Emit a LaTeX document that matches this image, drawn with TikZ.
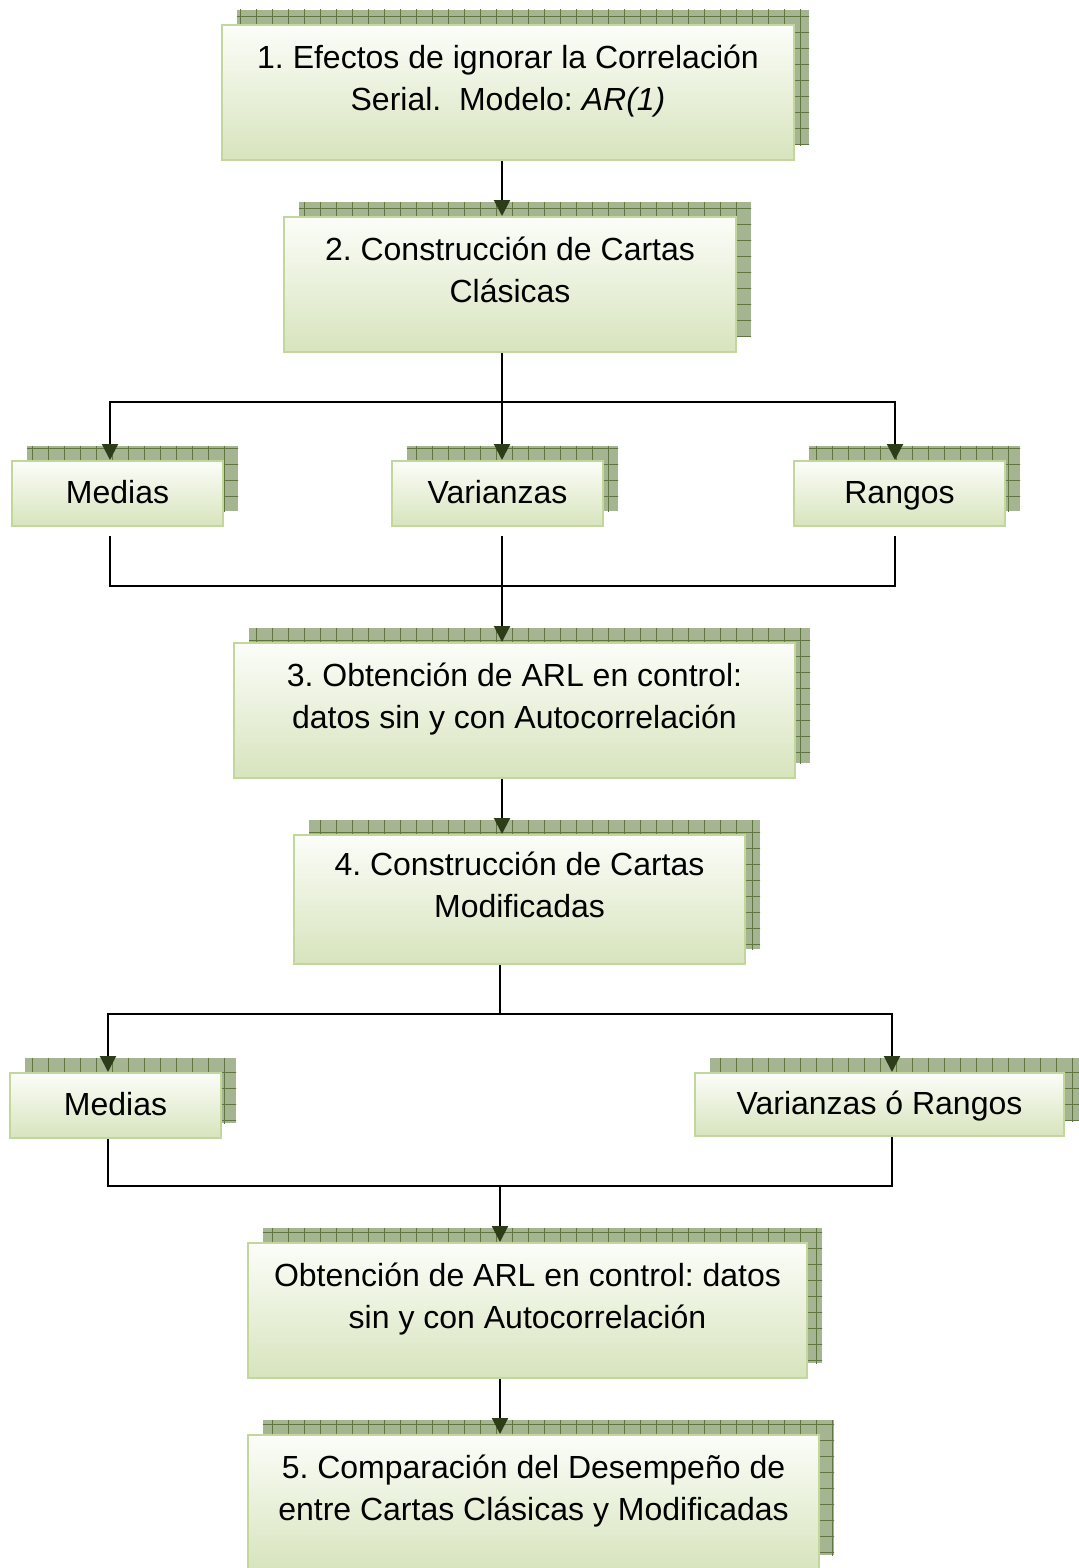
\documentclass[tikz,border=0pt]{standalone}
\usepackage{fontspec}
\setmainfont{Liberation Sans}
\usetikzlibrary{arrows.meta,shadows,patterns.meta}
\frenchspacing

\definecolor{boxline}{RGB}{195,214,155}
\definecolor{boxtop}{RGB}{252,253,249}
\definecolor{boxbot}{RGB}{215,228,189}
\definecolor{shadefill}{RGB}{165,180,145}
\definecolor{shadegrid}{RGB}{95,118,65}
\definecolor{tipgreen}{RGB}{45,60,25}

\tikzset{
  paso/.style={draw=boxline,line width=1pt,top color=boxtop,bottom color=boxbot,
    align=center,inner sep=0pt,font=\fontsize{16}{21}\selectfont,
    general shadow={fill=shadefill,shadow xshift=7.5pt,shadow yshift=7.5pt},
    general shadow={pattern={Lines[angle=0,distance=8pt,line width=0.45pt]},
      pattern color=shadegrid,shadow xshift=7.5pt,shadow yshift=7.5pt},
    general shadow={pattern={Lines[angle=90,distance=8pt,line width=0.45pt]},
      pattern color=shadegrid,shadow xshift=7.5pt,shadow yshift=7.5pt}},
  grande/.style={paso,minimum height=67.5pt,text depth=15pt},
  chico/.style={paso,minimum height=32.5pt,text height=12.25pt,text depth=2.75pt},
}

\begin{document}
\begin{tikzpicture}[x=0.5pt,y=-0.5pt,line width=1pt,
    >={Triangle[length=8pt,width=8pt,color=tipgreen]}]
                \useasboundingbox (0,0) rectangle (1079,1568);
                \node[grande,minimum width=286pt](1)at(508, 92.5){1. Efectos de ignorar la Correlación\\Serial.\ \ Modelo: \textit{AR(1)}};
                \node[grande,minimum width=226pt](2)at(510, 284.5){2. Construcción de Cartas\\Clásicas};
                \node[chico,minimum width=105.5pt](m1)at(117.5, 493.5){Medias};
                \node[chico,minimum width=105.5pt](v1)at(497.5, 493.5){Varianzas};
                \node[chico,minimum width=105.5pt](r1)at(899.5, 493.5){Rangos};
                \node[grande,minimum width=280.5pt](3)at(514.5, 710.5){3. Obtención de ARL en control:\\datos sin y con Autocorrelación};
                \node[grande,minimum width=225.5pt,minimum height=64.5pt](4)at(519.5, 899.5){4. Construcción de Cartas\\Modificadas};
                \node[chico,minimum width=105.5pt](m2)at(115.5, 1105.5){Medias};
                \node[chico,minimum width=184.5pt,minimum height=31.5pt](vr)at(879.5, 1104.5){Varianzas ó Rangos};
                \node[grande,minimum width=279.5pt](6)at(527.5, 1310.5){Obtención de ARL en control: datos\\sin y con Autocorrelación};
                \node[grande,minimum width=285.5pt](5)at(533.5, 1502.5){5. Comparación del Desempeño de\\entre Cartas Clásicas y Modificadas};

                % puntos de reparto
                \coordinate (a) at (502, 402);
                \coordinate (b) at (502, 586);
                \coordinate (c) at (500, 1014);
                \coordinate (d) at (500, 1186);
                \coordinate (izq1) at (110, 0);
                \coordinate (der1) at (895, 0);
                \coordinate (izq2) at (108, 0);
                \coordinate (der2) at (892, 0);

                \draw[->] (1.south -| a) -- (2.north -| a);
                \draw (2.south -| a) -- (a);
                \draw[->] (a) -- (v1.north -| a);
                \draw[->] (a) -| (m1.north -| izq1);
                \draw[->] (a) -| (r1.north -| der1);
                \draw ([yshift=-4.5pt]m1.south -| izq1) |- (b) -| ([yshift=-4.5pt]r1.south -| der1);
                \draw ([yshift=-4.5pt]v1.south -| b) -- (b);
                \draw[->] (b) -- (3.north -| b);
                \draw[->] (3.south -| b) -- (4.north -| b);
                \draw (4.south -| c) -- (c);
                \draw[->] (c) -| (m2.north -| izq2);
                \draw[->] (c) -| (vr.north -| der2);
                \draw (m2.south -| izq2) |- (d) -| (vr.south -| der2);
                \draw[->] (d) -- (6.north -| d);
                \draw[->] (6.south -| d) -- (5.north -| d);
\end{tikzpicture}
\end{document}
